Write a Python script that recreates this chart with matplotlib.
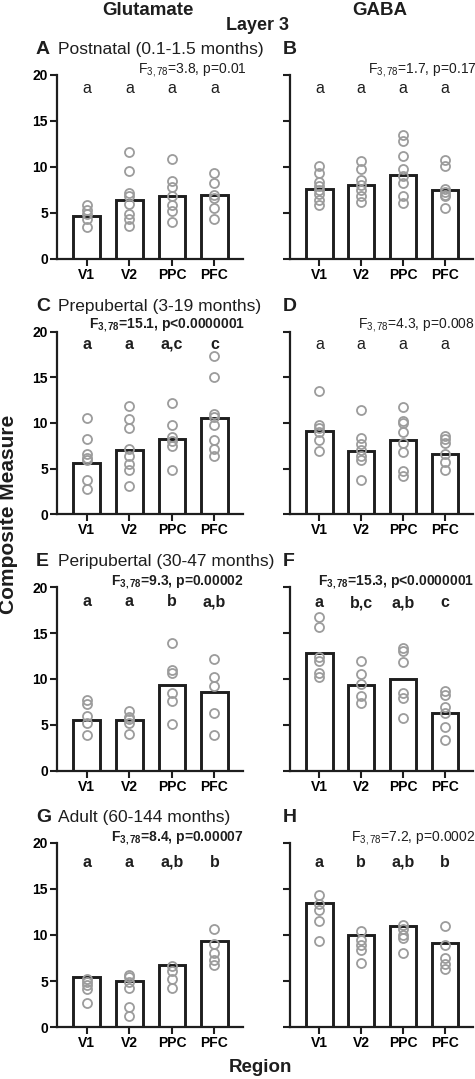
import matplotlib
matplotlib.use("Agg")
import matplotlib.pyplot as plt

plt.rcParams['font.family'] = ['Liberation Sans', 'DejaVu Sans']
plt.rcParams['mathtext.fontset'] = 'custom'
plt.rcParams['mathtext.rm'] = 'Liberation Sans'
plt.rcParams['mathtext.bf'] = 'Liberation Sans:bold'
plt.rcParams['mathtext.it'] = 'Liberation Sans:italic'

regions = ["V1", "V2", "PPC", "PFC"]
yticks = [0, 5, 10, 15, 20]

# ---- data: bar heights and individual points per panel ----
A_bars = [4.7, 6.4, 6.85, 6.95]
A_pts = [[5.9, 5.3, 4.9, 4.4, 3.5],
         [11.6, 9.6, 7.2, 6.8, 6.0, 4.9, 4.4, 3.6],
         [10.9, 8.5, 7.8, 6.8, 5.9, 5.2, 4.0],
         [9.3, 8.3, 7.0, 6.6, 5.5, 4.3]]
B_bars = [7.65, 8.05, 9.15, 7.5]
B_pts = [[10.1, 9.4, 8.4, 7.9, 7.5, 7.1, 6.4, 5.9],
         [10.7, 9.8, 8.6, 8.0, 7.5, 6.8, 6.2],
         [13.5, 12.8, 11.2, 9.8, 9.0, 8.3, 6.8, 6.1],
         [10.8, 10.1, 7.6, 7.3, 7.0, 6.8, 5.5]]
C_bars = [5.6, 7.05, 8.2, 10.6]
C_pts = [[10.5, 8.2, 6.6, 6.2, 5.9, 3.8, 2.8],
         [11.9, 10.4, 9.5, 7.2, 6.4, 5.5, 4.9, 3.1],
         [12.2, 9.8, 8.5, 8.0, 7.5, 4.8],
         [17.3, 15.0, 11.0, 10.7, 9.8, 8.1, 7.2, 6.4]]
D_bars = [9.15, 6.95, 8.15, 6.6]
D_pts = [[13.5, 9.8, 9.4, 9.0, 8.1, 6.9],
         [11.4, 8.4, 7.7, 7.0, 6.4, 5.9, 3.8],
         [11.8, 10.2, 10.0, 9.0, 7.8, 6.8, 4.7, 4.2],
         [8.6, 8.3, 7.8, 6.6, 5.7, 4.8]]
E_bars = [5.55, 5.55, 9.4, 8.55]
E_pts = [[7.7, 7.3, 6.0, 5.2, 3.9],
         [6.5, 5.9, 5.6, 5.2, 4.0],
         [13.9, 11.0, 10.7, 8.5, 7.6, 5.1],
         [12.2, 10.2, 9.2, 6.3, 3.9]]
F_bars = [12.8, 9.35, 10.0, 6.25]
F_pts = [[16.8, 15.7, 12.4, 12.0, 10.6, 10.2],
         [12.0, 10.5, 9.5, 8.2, 7.4],
         [13.4, 13.1, 11.8, 8.5, 7.9, 5.7],
         [8.7, 8.3, 6.9, 6.3, 4.8, 3.4]]
G_bars = [5.5, 5.05, 6.75, 9.35]
G_pts = [[5.2, 4.9, 4.6, 4.2, 2.6],
         [5.7, 5.5, 4.9, 4.3, 2.2, 1.2],
         [6.6, 6.1, 5.2, 4.3],
         [10.7, 9.0, 8.0, 7.3, 6.8]]
H_bars = [13.5, 10.05, 10.95, 9.15]
H_pts = [[14.3, 13.4, 12.7, 11.5, 9.3],
         [10.4, 9.5, 8.9, 8.4, 7.0],
         [11.1, 10.6, 10.0, 9.7, 8.0],
         [11.0, 8.9, 7.5, 6.9, 6.3]]

A_letters = ["a", "a", "a", "a"]
B_letters = ["a", "a", "a", "a"]
C_letters = ["a", "a", "a,c", "c"]
D_letters = ["a", "a", "a", "a"]
E_letters = ["a", "a", "b", "a,b"]
F_letters = ["a", "b,c", "a,b", "c"]
G_letters = ["a", "a", "a,b", "b"]
H_letters = ["a", "b", "a,b", "b"]

stats = {
    "A": (r"F$_{3,78}$=3.8, p=0.01", "normal"),
    "B": (r"F$_{3,78}$=1.7, p=0.17", "normal"),
    "C": (r"F$_{\mathbf{3,78}}$=15.1, p<0.0000001", "bold"),
    "D": (r"F$_{3,78}$=4.3, p=0.008", "normal"),
    "E": (r"F$_{\mathbf{3,78}}$=9.3, p=0.00002", "bold"),
    "F": (r"F$_{\mathbf{3,78}}$=15.3, p<0.0000001", "bold"),
    "G": (r"F$_{\mathbf{3,78}}$=8.4, p=0.00007", "bold"),
    "H": (r"F$_{3,78}$=7.2, p=0.0002", "normal"),
}
subtitles = ["Postnatal (0.1-1.5 months)", "Prepubertal (3-19 months)",
             "Peripubertal (30-47 months)", "Adult (60-144 months)"]

W, H = 475, 1079
fig = plt.figure(figsize=(W / 100, H / 100), dpi=100)

def fx(x):
    return x / W

def fy(y):
    return 1 - y / H

rows = [(75, 259), (331.7, 514.3), (587.3, 770.7), (842.7, 1027.3)]
cols = [(57, 243), (290, 473)]

panels = [
    ("A", A_bars, A_pts, A_letters, "normal", 18.5),
    ("B", B_bars, B_pts, B_letters, "normal", 18.5),
    ("C", C_bars, C_pts, C_letters, "bold", 18.6),
    ("D", D_bars, D_pts, D_letters, "normal", 18.6),
    ("E", E_bars, E_pts, E_letters, "bold", 18.4),
    ("F", F_bars, F_pts, F_letters, "bold", 18.3),
    ("G", G_bars, G_pts, G_letters, "bold", 17.9),
    ("H", H_bars, H_pts, H_letters, "bold", 17.9),
]
stat_left = {"A": 138, "B": 368, "C": 89, "D": 358, "E": 111, "F": 318, "G": 111, "H": 351}
stat_off = [2, 4, 2, 2]
label_x = [36, 283]

for i, (lab, bars, pts, letters, lw, ylet) in enumerate(panels):
    r, c = divmod(i, 2)
    top, bot = rows[r]
    x0, x1 = cols[c]
    ax = fig.add_axes([fx(x0), fy(bot), fx(x1 - x0), (bot - top) / H])
    xs = list(range(len(regions)))
    ax.bar(xs, bars, width=0.63, color="white", edgecolor="#1e1e1e",
           linewidth=2.1, zorder=2)
    for xi, vals in zip(xs, pts):
        ax.plot([xi] * len(vals), vals, linestyle="none", marker="o",
                markersize=6.5, markerfacecolor="none",
                markeredgecolor="#9c9c9c", markeredgewidth=1.3, zorder=3)
    for xi, t in zip(xs, letters):
        ax.text(xi, ylet, t, ha="center", va="center", fontsize=11.5,
                fontweight=lw, color="#1e1e1e")
    ax.set_xlim(-0.7, 3.67)
    ax.set_ylim(0, 20)
    ax.set_yticks(yticks)
    ax.set_xticks(xs)
    ax.set_xticklabels(regions, fontsize=10, fontweight="bold")
    if c == 0:
        ax.set_yticklabels([str(v) for v in yticks], fontsize=10,
                           fontweight="bold")
    else:
        ax.set_yticklabels([])
    for s in ["top", "right"]:
        ax.spines[s].set_visible(False)
    for s in ["left", "bottom"]:
        ax.spines[s].set_linewidth(1.6)
        ax.spines[s].set_color("#1e1e1e")
    ax.tick_params(axis="both", direction="out", length=5, width=1.5,
                   color="#1e1e1e", pad=1.5)
    ax.set_facecolor("none")

    # panel letter & subtitle
    fig.text(fx(label_x[c]), fy(top - 21), lab, fontsize=14,
             fontweight="bold", ha="left", va="baseline", color="#1e1e1e")
    if c == 0:
        fig.text(fx(58), fy(top - 21), subtitles[r], fontsize=12.5,
                 ha="left", va="baseline", color="#1e1e1e")
    st, sw = stats[lab]
    fig.text(fx(stat_left[lab]), fy(top - stat_off[r]), st, fontsize=10,
             fontweight=sw, ha="left", va="baseline", color="#1e1e1e")

fig.text(fx(148), fy(15), "Glutamate", fontsize=13.5, fontweight="bold",
         ha="center", va="baseline", color="#1e1e1e")
fig.text(fx(380), fy(15), "GABA", fontsize=13.5, fontweight="bold",
         ha="center", va="baseline", color="#1e1e1e")
fig.text(fx(258), fy(30), "Layer 3", fontsize=13, fontweight="bold",
         ha="center", va="baseline", color="#1e1e1e")
fig.text(fx(9), fy(514), "Composite Measure", fontsize=15,
         fontweight="bold", rotation=90, ha="center", va="center",
         color="#1e1e1e")
fig.text(fx(260), fy(1067), "Region", fontsize=13.5, fontweight="bold",
         ha="center", va="center", color="#1e1e1e")

fig.savefig("out.png", dpi=100, facecolor="white")
